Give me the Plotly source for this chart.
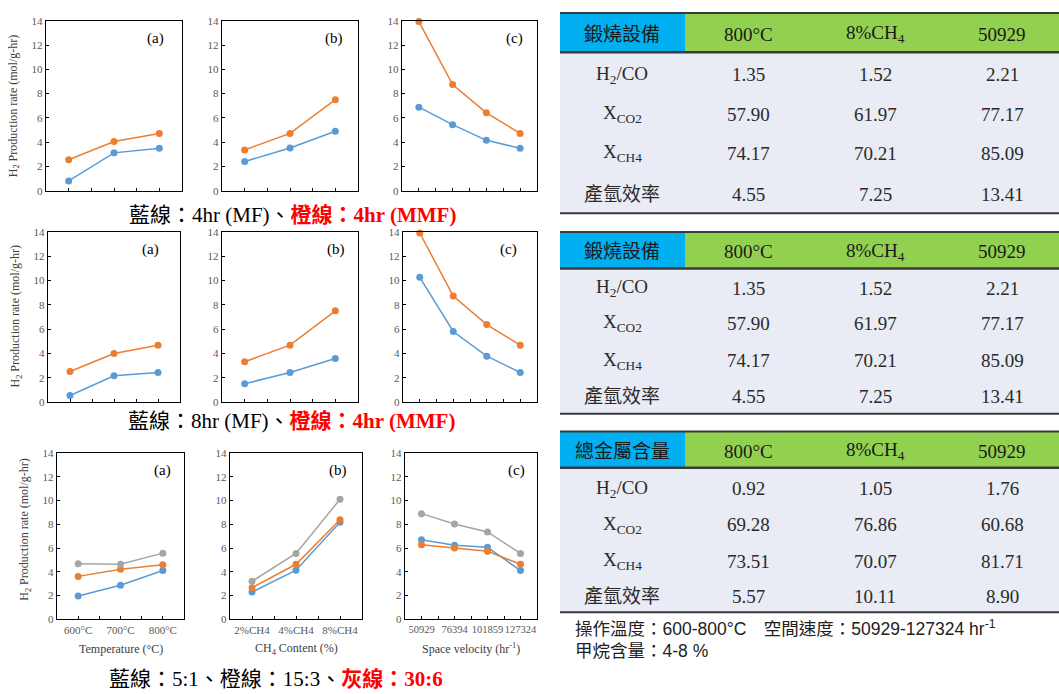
import plotly.graph_objects as go

W, H = 1059, 694

# ---------------- data ----------------
temp_labels = ["600°C", "700°C", "800°C"]
ch4_labels = ["2%CH4", "4%CH4", "8%CH4"]
sv_labels = ["50929", "76394", "101859", "127324"]

# Row 1: 4hr (MF) blue vs 4hr (MMF) orange
r1_temp_mf = [0.81, 3.12, 3.50]
r1_temp_mmf = [2.55, 4.05, 4.72]
r1_ch4_mf = [2.41, 3.52, 4.90]
r1_ch4_mmf = [3.36, 4.72, 7.50]
r1_sv_mf = [6.88, 5.44, 4.15, 3.50]
r1_sv_mmf = [13.93, 8.74, 6.42, 4.72]

# Row 2: 8hr (MF) blue vs 4hr (MMF) orange
r2_temp_mf = [0.54, 2.16, 2.43]
r2_temp_mmf = [2.51, 4.00, 4.68]
r2_ch4_mf = [1.51, 2.43, 3.59]
r2_ch4_mmf = [3.32, 4.68, 7.51]
r2_sv_mf = [10.27, 5.81, 3.78, 2.43]
r2_sv_mmf = [13.92, 8.73, 6.38, 4.68]

# Row 3: ratios 5:1 (blue), 15:3 (orange), 30:6 (gray)
r3_temp_51 = [1.96, 2.87, 4.10]
r3_temp_153 = [3.61, 4.22, 4.60]
r3_temp_306 = [4.68, 4.63, 5.57]
r3_ch4_51 = [2.29, 4.13, 8.18]
r3_ch4_153 = [2.65, 4.63, 8.38]
r3_ch4_306 = [3.20, 5.54, 10.11]
r3_sv_51 = [6.70, 6.23, 6.06, 4.10]
r3_sv_153 = [6.28, 6.01, 5.73, 4.63]
r3_sv_306 = [8.90, 8.02, 7.36, 5.54]

panel_tags = ["(a)", "(b)", "(c)"]

# tables
table_row_labels = ["H<sub>2</sub>/CO", "X<sub>CO2</sub>", "X<sub>CH4</sub>", "產氫效率"]
table_col_labels = ["800°C", "8%CH<sub>4</sub>", "50929"]
calcine_values = [[1.35, 1.52, 2.21], [57.90, 61.97, 77.17], [74.17, 70.21, 85.09], [4.55, 7.25, 13.41]]
metal_values = [[0.92, 1.05, 1.76], [69.28, 76.86, 60.68], [73.51, 70.07, 81.71], [5.57, 10.11, 8.90]]
table_titles = ["鍛燒設備", "鍛燒設備", "總金屬含量"]
table_data = [calcine_values, calcine_values, metal_values]

# ---------------- styling ----------------
BLUE, ORANGE, GRAY = "#5B9BD5", "#ED7D31", "#A5A5A5"
SERIF = "Liberation Serif, Noto Sans CJK TC, serif"
TICK_COL = "#595959"


def fx(p):
    return p / W


def fy(p):
    return 1 - p / H


def note(x, y, text, font, **kw):
    d = dict(x=fx(x), y=fy(y), xref="paper", yref="paper", text=text, showarrow=False,
             xanchor="center", yanchor="middle", font=font)
    d.update(kw)
    return d


fig = go.Figure()

rows = [
    dict(y=(15, 188), xs=[(46, 182), (222, 358), (402, 537)],
         series=[[(r1_temp_mf, BLUE), (r1_temp_mmf, ORANGE)],
                 [(r1_ch4_mf, BLUE), (r1_ch4_mmf, ORANGE)],
                 [(r1_sv_mf, BLUE), (r1_sv_mmf, ORANGE)]],
         tags=[(155, 33), (334, 33), (514, 33)], title=(14, 102), labels=False),
    dict(y=(230, 403), xs=[(48, 180), (222, 358), (403, 537)],
         series=[[(r2_temp_mf, BLUE), (r2_temp_mmf, ORANGE)],
                 [(r2_ch4_mf, BLUE), (r2_ch4_mmf, ORANGE)],
                 [(r2_sv_mf, BLUE), (r2_sv_mmf, ORANGE)]],
         tags=[(150, 248), (336, 248), (509, 248)], title=(16, 316), labels=False),
    dict(y=(455, 624), xs=[(57, 184), (230, 362), (405, 537)],
         series=[[(r3_temp_51, BLUE), (r3_temp_153, ORANGE), (r3_temp_306, GRAY)],
                 [(r3_ch4_51, BLUE), (r3_ch4_153, ORANGE), (r3_ch4_306, GRAY)],
                 [(r3_sv_51, BLUE), (r3_sv_153, ORANGE), (r3_sv_306, GRAY)]],
         tags=[(162, 473), (338, 473), (516, 473)], title=(25, 533), labels=True),
]
cat_sets = [temp_labels, ch4_labels, sv_labels]
x_titles = ["Temperature (°C)", "CH<sub>4</sub> Content (%)", "Space velocity (hr<sup>-1</sup>)"]

annotations = []
shapes = []
k = 0
for row in rows:
    ytop, ybot = row["y"]
    for j in range(3):
        k += 1
        xl, xr = row["xs"][j]
        cats = cat_sets[j]
        n = len(cats)
        xa = "x" if k == 1 else f"x{k}"
        ya = "y" if k == 1 else f"y{k}"
        for vals, col in row["series"][j]:
            fig.add_trace(go.Scatter(
                x=list(range(len(vals))), y=vals, xaxis=xa, yaxis=ya,
                mode="lines+markers", line=dict(color=col, width=1.5),
                marker=dict(size=7, color=col), showlegend=False,
                cliponaxis=False, hoverinfo="skip"))
        ax_common = dict(showline=True, linecolor="black", linewidth=1.4, mirror=True,
                         showgrid=False, zeroline=False, ticks="inside", ticklen=3,
                         tickcolor="black", fixedrange=True)
        fig.layout[("xaxis" if k == 1 else f"xaxis{k}")] = dict(
            domain=[fx(xl), fx(xr)], anchor=ya, range=[-0.5, n - 0.5],
            tickmode="array", tickvals=list(range(n)), ticktext=cats,
            showticklabels=row["labels"], tickangle=0,
            minor=dict(tickmode="array", tickvals=[i + 0.5 for i in range(n - 1)],
                       ticks="inside", ticklen=3, tickcolor="black", showgrid=False),
            tickfont=dict(family=SERIF, size=11 if n == 3 else 10.5, color=TICK_COL), **ax_common)
        fig.layout[("yaxis" if k == 1 else f"yaxis{k}")] = dict(
            domain=[fy(ybot), fy(ytop)], anchor=xa, range=[0, 14], dtick=2,
            tickfont=dict(family=SERIF, size=11, color=TICK_COL), **ax_common)
        tx, ty = row["tags"][j]
        annotations.append(note(tx, ty, panel_tags[j], dict(family=SERIF, size=15, color="black")))
        if row["labels"]:
            annotations.append(note((xl + xr) / 2, 654, x_titles[j],
                                    dict(family=SERIF, size=12, color="#404040")))
    # y axis title of the row
    tx, ty = row["title"]
    annotations.append(note(tx, ty, "H<sub>2</sub> Production rate (mol/g-hr)",
                            dict(family=SERIF, size=12, color="#404040"), textangle=-90))

# row captions
captions = [
    (292, 213, "藍線：4hr (MF)、<span style='color:#FF0000'><b>橙線：4hr (MMF)</b></span>"),
    (291, 422, "藍線：8hr (MF)、<span style='color:#FF0000'><b>橙線：4hr (MMF)</b></span>"),
    (276, 685, "藍線：5:1、橙線：15:3、<span style='color:#FF0000'><b>灰線：30:6</b></span>"),
]
for cx, cy, txt in captions:
    annotations.append(note(cx, cy, txt, dict(family=SERIF, size=21, color="black")))

# ---------------- tables ----------------
T_LEFT, T_SPLIT, T_RIGHT = 560, 685, 1059
col_centers = [622, 748, 875, 1002]
table_geom = [
    dict(top=7, hb=47, bottom=211, hc=29, rows=[70, 110, 150, 192]),
    dict(top=230, hb=267, bottom=415, hc=250, rows=[287, 323, 361, 397]),
    dict(top=433, hb=470, bottom=617, hc=453, rows=[491, 528, 565, 601]),
]
LINE_COL = "#3A3A3A"
for g, title, values in zip(table_geom, table_titles, table_data):
    shapes.append(dict(type="rect", xref="paper", yref="paper", x0=fx(T_LEFT), x1=fx(T_SPLIT),
                       y0=fy(g["hb"]), y1=fy(g["top"]), fillcolor="#00B0F0", line=dict(width=0)))
    shapes.append(dict(type="rect", xref="paper", yref="paper", x0=fx(T_SPLIT), x1=fx(T_RIGHT),
                       y0=fy(g["hb"]), y1=fy(g["top"]), fillcolor="#92D050", line=dict(width=0)))
    shapes.append(dict(type="rect", xref="paper", yref="paper", x0=fx(T_LEFT), x1=fx(T_RIGHT),
                       y0=fy(g["bottom"]), y1=fy(g["hb"]), fillcolor="#E9EBF5", line=dict(width=0)))
    for yy, lw in [(g["top"], 2), (g["hb"], 2.5), (g["bottom"], 2)]:
        shapes.append(dict(type="line", xref="paper", yref="paper", x0=fx(T_LEFT), x1=fx(T_RIGHT),
                           y0=fy(yy), y1=fy(yy), line=dict(color=LINE_COL, width=lw)))
    header = [title] + table_col_labels
    for cx, txt in zip(col_centers, header):
        annotations.append(note(cx, g["hc"], txt, dict(family=SERIF, size=19, color="#1A1A1A")))
    for ry, lab, vals in zip(g["rows"], table_row_labels, values):
        annotations.append(note(col_centers[0], ry, lab, dict(family=SERIF, size=19, color="#2A2A2A")))
        for cx, v in zip(col_centers[1:], vals):
            annotations.append(note(cx, ry, f"{v:.2f}", dict(family=SERIF, size=19, color="#2A2A2A")))

# footnote under the last table
notes = [
    (633, "操作溫度：600-800°C　空間速度：50929-127324 hr<sup>-1</sup>"),
    (656, "甲烷含量：4-8 %"),
]
for ny, txt in notes:
    annotations.append(note(573, ny, txt,
                            dict(family="Liberation Sans, Noto Sans CJK TC, sans-serif",
                                 size=17.5, color="#222222"), xanchor="left"))

fig.update_layout(width=W, height=H, margin=dict(l=0, r=0, t=0, b=0),
                  paper_bgcolor="white", plot_bgcolor="white",
                  annotations=annotations, shapes=shapes, showlegend=False)

fig.write_html("out.html", config={"displayModeBar": False})
